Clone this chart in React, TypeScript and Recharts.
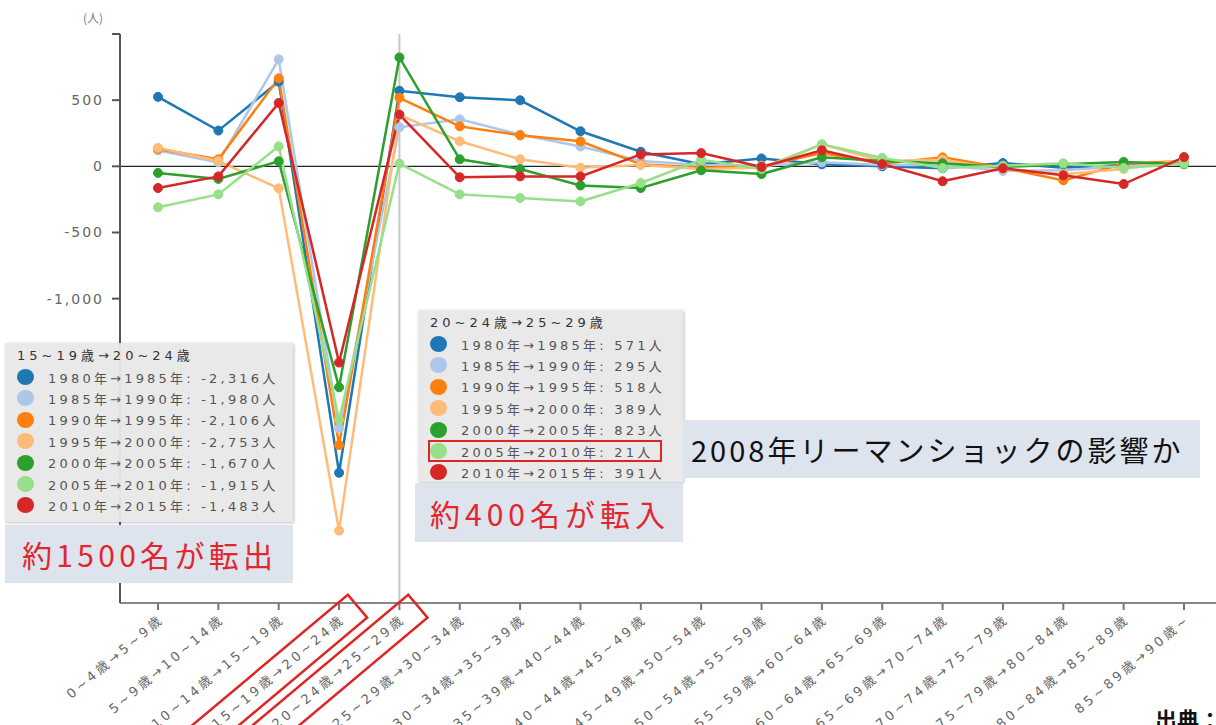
import { LineChart, Line, XAxis, YAxis, ReferenceLine } from 'recharts'

const ageGroups = [
  '0~4歳→5~9歳',
  '5~9歳→10~14歳',
  '10~14歳→15~19歳',
  '15~19歳→20~24歳',
  '20~24歳→25~29歳',
  '25~29歳→30~34歳',
  '30~34歳→35~39歳',
  '35~39歳→40~44歳',
  '40~44歳→45~49歳',
  '45~49歳→50~54歳',
  '50~54歳→55~59歳',
  '55~59歳→60~64歳',
  '60~64歳→65~69歳',
  '65~69歳→70~74歳',
  '70~74歳→75~79歳',
  '75~79歳→80~84歳',
  '80~84歳→85~89歳',
  '85~89歳→90歳~',
]

const seriesNames = [
  '1980年→1985年',
  '1985年→1990年',
  '1990年→1995年',
  '1995年→2000年',
  '2000年→2005年',
  '2005年→2010年',
  '2010年→2015年',
]

const seriesColors = ['#1f77b4', '#aec7e8', '#ff7f0e', '#ffbb78', '#2ca02c', '#98df8a', '#d62728']

const s1980 = [525, 270, 640, -2316, 571, 522, 499, 265, 110, 15, 60, 15, 0, -15, 25, -10, 10, 30]
const s1985 = [120, 30, 809, -1980, 295, 355, 240, 150, 40, 10, 5, 30, 10, 10, -35, -30, 0, 30]
const s1990 = [131, 53, 665, -2106, 518, 302, 234, 189, 15, -10, 0, 100, 20, 68, -10, -106, 20, 40]
const s1995 = [140, 40, -166, -2753, 389, 189, 53, -10, 10, -20, -10, 166, 40, 50, -20, -60, -20, 50]
const s2000 = [-50, -95, 38, -1670, 823, 53, -20, -145, -164, -30, -58, 68, 40, 23, -5, 15, 33, 15]
const s2005 = [-310, -212, 151, -1915, 21, -212, -239, -265, -126, 50, -20, 166, 63, -13, 5, 23, -13, 20]
const s2010 = [-164, -76, 479, -1483, 391, -83, -76, -76, 90, 100, -5, 121, 17, -113, -15, -68, -134, 70]

const seriesValues = [s1980, s1985, s1990, s1995, s2000, s2005, s2010]

// lower ticks sit under the tooltip boxes in the original, so only these show
const yTicks = [-1000, -500, 0, 500, 1000]

// the two age moves boxed in red under the axis
const highlighted = [ageGroups[3], ageGroups[4]]

const data = ageGroups.map((label, i) => {
  const row: Record<string, string | number> = { label }
  seriesValues.forEach((vals, k) => {
    row['s' + k] = vals[i]
  })
  return row
})

const font = "'DejaVu Sans', 'Noto Sans CJK JP', sans-serif"
const jpFont = "'Noto Sans CJK JP', sans-serif"

const fmt = (v: number) => v.toLocaleString('en-US')

function XTick(props: any) {
  const { x, y, payload } = props
  const hi = highlighted.includes(payload.value)
  return (
    <g transform={`translate(${x + 4},${y + 5}) rotate(-40)`}>
      <text x={0} y={0} dy="0.35em" textAnchor="end" fill="#666" fontSize={13} fontFamily={font} letterSpacing={3.4}>
        {payload.value}
      </text>
      {hi && <rect x={-232} y={-14} width={250} height={30} fill="none" stroke="#e02424" strokeWidth={2.5} />}
    </g>
  )
}

function InfoBox({ left, top, width, height, idx }: { left: number; top: number; width: number; height: number; idx: number }) {
  return (
    <div
      style={{
        position: 'absolute',
        left,
        top,
        width,
        height,
        background: 'rgba(232,232,232,0.95)',
        boxShadow: '1px 1px 3px rgba(0,0,0,0.25)',
        fontFamily: font,
        color: '#555',
      }}
    >
      <div style={{ position: 'absolute', left: 12, top: 4, fontSize: 13, lineHeight: '18px', letterSpacing: 4, color: '#333', whiteSpace: 'nowrap' }}>
        {ageGroups[idx]}
      </div>
      {seriesNames.map((n, k) => (
        <div
          key={n}
          style={{ position: 'absolute', left: 12, top: 24 + k * 21.4, height: 20, display: 'flex', alignItems: 'center', whiteSpace: 'nowrap' }}
        >
          <span style={{ width: 17, height: 16, borderRadius: '50%', background: seriesColors[k], display: 'inline-block' }} />
          <span style={{ marginLeft: 14, fontSize: 13, letterSpacing: 3.2 }}>
            {n}: {fmt(seriesValues[k][idx])}人
          </span>
        </div>
      ))}
    </div>
  )
}

function Note({ left, top, width, height, text, color, size, spacing, pad }: any) {
  return (
    <div
      style={{
        position: 'absolute',
        left,
        top,
        width,
        height,
        background: '#dde4ee',
        display: 'flex',
        alignItems: 'center',
        paddingLeft: pad,
        boxSizing: 'border-box',
        fontFamily: jpFont,
        fontSize: size,
        letterSpacing: spacing,
        color,
        whiteSpace: 'nowrap',
      }}
    >
      {text}
    </div>
  )
}

export default function App() {
  return (
    <div style={{ position: 'absolute', left: 0, top: 0, width: 1216, height: 725, overflow: 'hidden', background: '#fff' }}>
      <LineChart width={1230} height={725} data={data} margin={{ top: 34, right: 8, bottom: 0, left: 0 }}>
        <ReferenceLine x={ageGroups[4]} stroke="#c8c8c8" strokeWidth={2} />
        <ReferenceLine y={0} stroke="#222" strokeWidth={1.3} />
        <XAxis
          dataKey="label"
          height={122}
          padding={{ left: 38, right: 38 }}
          interval={0}
          tick={<XTick />}
          tickSize={7}
          axisLine={{ stroke: '#888', strokeWidth: 2 }}
          tickLine={{ stroke: '#777', strokeWidth: 2 }}
        />
        <YAxis
          width={120}
          domain={[-3300, 1000]}
          ticks={yTicks}
          interval={0}
          allowDataOverflow
          tickSize={8}
          tickMargin={8}
          tickFormatter={(v: number) => (v === 1000 ? '' : fmt(v))}
          tick={{ fill: '#666', fontSize: 14, fontFamily: font, letterSpacing: 2 }}
          axisLine={{ stroke: '#555', strokeWidth: 2 }}
          tickLine={{ stroke: '#555', strokeWidth: 2 }}
        />
        {seriesNames.map((n, k) => (
          <Line
            key={n}
            dataKey={'s' + k}
            name={n}
            type="linear"
            stroke={seriesColors[k]}
            strokeWidth={2.5}
            dot={{ r: 4.5, fill: seriesColors[k], stroke: seriesColors[k], strokeWidth: 1 }}
            isAnimationActive={false}
          />
        ))}
      </LineChart>

      <div style={{ position: 'absolute', left: 83, top: 9, fontSize: 12, color: '#777', fontFamily: jpFont }}>(人)</div>

      <InfoBox left={5} top={343} width={288} height={179} idx={3} />
      <Note left={5} top={525} width={288} height={58} text="約1500名が転出" color="#e2262c" size={30} spacing={4.3} pad={17} />

      <InfoBox left={418} top={310} width={265} height={172} idx={4} />
      <div style={{ position: 'absolute', left: 428, top: 440, width: 230, height: 18, border: '2px solid #e02424' }} />
      <Note left={415} top={483} width={268} height={59} text="約400名が転入" color="#e2262c" size={30} spacing={5} pad={15} />

      <Note left={683} top={420} width={517} height={58} text="2008年リーマンショックの影響か" color="#111" size={29} spacing={3} pad={8} />

      <div style={{ position: 'absolute', left: 1155, top: 702, fontSize: 22, fontWeight: 'bold', color: '#111', fontFamily: jpFont, whiteSpace: 'nowrap' }}>
        出典：
      </div>
    </div>
  )
}
